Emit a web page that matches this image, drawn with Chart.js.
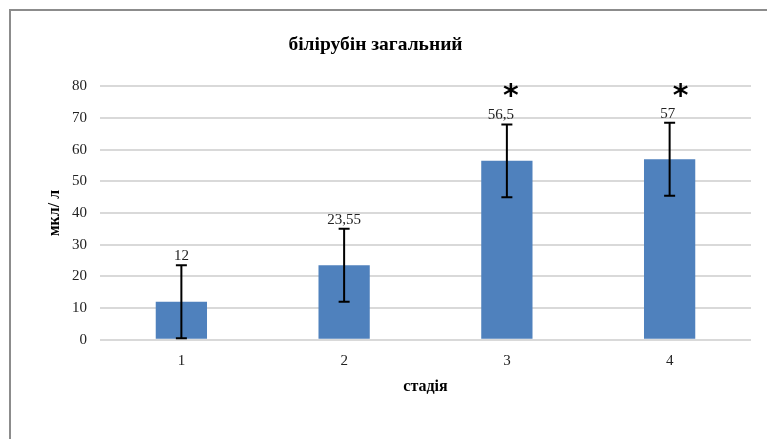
<!DOCTYPE html>
<html>
<head>
<meta charset="utf-8">
<script src="https://cdn.jsdelivr.net/npm/chart.js@4/dist/chart.umd.min.js"></script>
<style>
html,body{margin:0;padding:0;background:#fff;}
#c{display:block;}
</style>
</head>
<body>
<canvas id="c" width="767" height="439"></canvas>
<script>
const categories = ["1", "2", "3", "4"];
const values = [12, 23.55, 56.5, 57];
const errors = [11.5, 11.5, 11.5, 11.5];
const valueLabels = ["12", "23,55", "56,5", "57"];
const markers = ["", "", "*", "*"];
const markerValue = 79;
const yTicks = [0, 10, 20, 30, 40, 50, 60, 70, 80];

const SERIF = '"Liberation Serif", "Times New Roman", serif';

const framePlugin = {
  id: 'frame',
  beforeDraw(chart) {
    const ctx = chart.ctx;
    ctx.save();
    ctx.fillStyle = '#fff';
    ctx.fillRect(0, 0, chart.width, chart.height);
    ctx.strokeStyle = '#8c8c8c';
    ctx.lineWidth = 2;
    ctx.strokeRect(10, 10, 900, 600);
    ctx.restore();
  }
};

const errorPlugin = {
  id: 'errbars',
  afterDatasetsDraw(chart) {
    const ctx = chart.ctx;
    const meta = chart.getDatasetMeta(0);
    const ys = chart.scales.y;
    const markerOffsets = [0, 0, 4, 11];
    const labelOffsets = [0, 0, -6, -2];
    ctx.save();
    meta.data.forEach((bar, i) => {
      const x = bar.x;
      const hi = ys.getPixelForValue(values[i] + errors[i]);
      const lo = ys.getPixelForValue(values[i] - errors[i]);
      ctx.strokeStyle = '#000';
      ctx.lineWidth = 2;
      ctx.beginPath();
      ctx.moveTo(x, hi); ctx.lineTo(x, lo);
      ctx.moveTo(x - 5.5, hi); ctx.lineTo(x + 5.5, hi);
      ctx.moveTo(x - 5.5, lo); ctx.lineTo(x + 5.5, lo);
      ctx.stroke();
      ctx.fillStyle = '#222';
      ctx.font = '15px ' + SERIF;
      ctx.textAlign = 'center';
      ctx.textBaseline = 'alphabetic';
      ctx.fillText(valueLabels[i], x + labelOffsets[i], hi - 5);
      if (markers[i]) {
        ctx.font = 'bold 30px "DejaVu Sans", sans-serif';
        ctx.textBaseline = 'middle';
        ctx.fillStyle = '#000';
        ctx.fillText(markers[i], x + markerOffsets[i], ys.getPixelForValue(markerValue) + 8);
      }
    });
    ctx.restore();
  }
};

new Chart(document.getElementById('c'), {
  type: 'bar',
  data: {
    labels: categories,
    datasets: [{
      data: values,
      backgroundColor: '#4f81bd',
      borderWidth: 0,
      categoryPercentage: 1,
      barPercentage: 0.315
    }]
  },
  options: {
    responsive: false,
    animation: false,
    devicePixelRatio: 1,
    layout: { padding: { left: 0, right: 16, top: 0, bottom: 43 } },
    plugins: {
      legend: { display: false },
      tooltip: { enabled: false },
      title: {
        display: true,
        text: 'білірубін загальний',
        color: '#000',
        font: { family: SERIF, size: 19.5, weight: 'bold' },
        padding: { top: 33, bottom: 30 }
      }
    },
    scales: {
      x: {
        grid: { display: false, drawTicks: false },
        border: { display: false },
        ticks: { color: '#222', font: { family: SERIF, size: 15 }, padding: 12 },
        title: {
          display: true, text: 'стадія', color: '#000',
          font: { family: SERIF, size: 16, weight: 'bold' },
          padding: { top: -5, bottom: 0 }
        }
      },
      y: {
        min: 0, max: 80,
        afterBuildTicks(scale) { scale.ticks = yTicks.map(v => ({ value: v })); },
        afterFit(scale) { scale.width = 100; },
        grid: { color: '#d9d9d9', lineWidth: 2, drawTicks: false },
        border: { display: false },
        ticks: { color: '#222', font: { family: SERIF, size: 15 }, padding: 13 },
        title: {
          display: true, text: 'мкл/ л', color: '#000',
          font: { family: SERIF, size: 16, weight: 'bold' },
          padding: { top: 45.5, bottom: 0 }
        }
      }
    }
  },
  plugins: [framePlugin, errorPlugin]
});
</script>
</body>
</html>
